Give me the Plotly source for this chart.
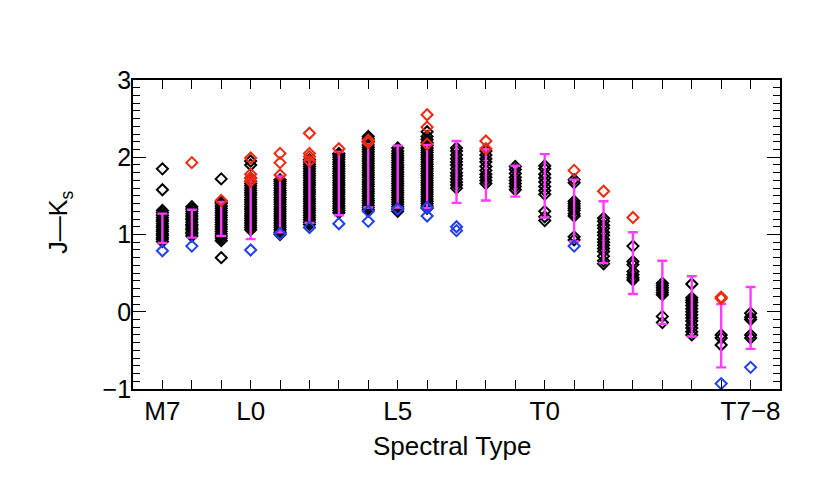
import plotly.graph_objects as go

# Spectral type index: 0 = M7 ... 20 = T7-8
type_index = list(range(21))
tick_positions = [0, 3, 8, 13, 20]
tick_labels = ["M7", "L0", "L5", "T0", "T7\u22128"]

# Individual objects (black diamonds), one list per spectral type
black_jk = [
    [1.85, 1.58, 0.91, 0.94, 0.96, 0.99, 1.01, 1.04, 1.06, 1.09, 1.11, 1.14, 1.17, 1.19, 1.22, 1.25, 1.28, 1.31],
    [0.98, 1.01, 1.03, 1.06, 1.08, 1.11, 1.13, 1.16, 1.19, 1.21, 1.24, 1.27, 1.30, 1.33, 1.36],
    [1.72, 0.70, 0.92, 0.95, 0.98, 1.01, 1.04, 1.07, 1.10, 1.13, 1.16, 1.19, 1.22, 1.25, 1.28, 1.31, 1.34, 1.37, 1.40, 1.42],
    [1.95, 1.90, 1.06, 1.09, 1.12, 1.15, 1.18, 1.21, 1.24, 1.27, 1.30, 1.33, 1.36, 1.39, 1.42, 1.45, 1.48, 1.51, 1.54, 1.57, 1.60, 1.63, 1.66, 1.69, 1.73],
    [1.00, 1.03, 1.06, 1.09, 1.12, 1.15, 1.18, 1.21, 1.24, 1.27, 1.30, 1.33, 1.36, 1.39, 1.42, 1.45, 1.48, 1.51, 1.54, 1.57, 1.60, 1.63, 1.66, 1.69, 1.71],
    [1.13, 1.16, 1.19, 1.22, 1.25, 1.28, 1.31, 1.34, 1.37, 1.40, 1.43, 1.46, 1.49, 1.52, 1.55, 1.58, 1.61, 1.64, 1.67, 1.70, 1.73, 1.76, 1.79, 1.82, 1.85, 1.88, 1.91, 1.94, 1.97],
    [1.28, 1.31, 1.34, 1.37, 1.40, 1.43, 1.46, 1.49, 1.52, 1.55, 1.58, 1.61, 1.64, 1.67, 1.70, 1.73, 1.76, 1.79, 1.82, 1.85, 1.88, 1.91, 1.94, 1.97, 2.00, 2.03, 2.05],
    [1.32, 1.35, 1.38, 1.41, 1.44, 1.47, 1.50, 1.53, 1.56, 1.59, 1.62, 1.65, 1.68, 1.71, 1.74, 1.77, 1.80, 1.83, 1.86, 1.89, 1.92, 1.95, 1.98, 2.01, 2.04, 2.07, 2.10, 2.13, 2.16, 2.20, 2.24, 2.27],
    [1.30, 1.33, 1.36, 1.39, 1.42, 1.45, 1.48, 1.51, 1.54, 1.57, 1.60, 1.63, 1.66, 1.69, 1.72, 1.75, 1.78, 1.81, 1.84, 1.87, 1.90, 1.93, 1.96, 1.99, 2.02, 2.05, 2.08, 2.12],
    [1.34, 1.37, 1.40, 1.43, 1.46, 1.49, 1.52, 1.55, 1.58, 1.61, 1.64, 1.67, 1.70, 1.73, 1.76, 1.79, 1.82, 1.85, 1.88, 1.91, 1.94, 1.97, 2.00, 2.03, 2.06, 2.09, 2.12, 2.15, 2.19, 2.23, 2.27, 2.33],
    [2.12, 2.08, 2.03, 1.98, 1.94, 1.90, 1.85, 1.80, 1.76, 1.72, 1.68, 1.64, 1.60],
    [2.08, 2.03, 1.98, 1.94, 1.88, 1.83, 1.78, 1.74, 1.70, 1.66],
    [1.88, 1.84, 1.79, 1.74, 1.70, 1.66, 1.62, 1.58],
    [1.89, 1.85, 1.78, 1.73, 1.68, 1.62, 1.57, 1.52, 1.30, 1.23, 1.18],
    [1.71, 1.67, 1.43, 1.40, 1.37, 1.34, 1.31, 1.27, 1.24, 0.97, 0.93],
    [1.21, 1.17, 1.12, 1.08, 1.03, 0.99, 0.94, 0.90, 0.86, 0.82, 0.78, 0.72, 0.66, 0.62],
    [0.85, 0.65, 0.61, 0.52, 0.48, 0.44, 0.41],
    [0.37, 0.34, 0.31, 0.28, 0.25, 0.22, -0.06, -0.14],
    [0.36, 0.18, 0.15, 0.12, 0.08, 0.04, 0.00, -0.04, -0.08, -0.12, -0.17, -0.21, -0.26, -0.30],
    [-0.30, -0.34, -0.43],
    [-0.02, -0.07, -0.10, -0.30, -0.34],
]

# Mean and standard deviation per spectral type (magenta bars)
mean_jk = [1.08, 1.14, 1.20, 1.33, 1.39, 1.56, 1.66, 1.76, 1.75, 1.75, 1.81,
           1.77, 1.69, 1.63, 1.31, 1.03, 0.63, 0.25, 0.07, -0.31, -0.08]
sigma_jk = [0.19, 0.18, 0.22, 0.39, 0.36, 0.41, 0.41, 0.41, 0.40, 0.41, 0.40,
            0.33, 0.20, 0.41, 0.40, 0.40, 0.40, 0.41, 0.39, 0.41, 0.40]

# Red (unusually red) objects
red_type = [1, 2, 3, 3, 3, 3, 4, 4, 4, 5, 5, 5, 5, 6, 7, 7, 9, 9, 9, 11, 11, 14, 15, 16, 19, 19]
red_jk = [1.93, 1.44, 1.99, 1.78, 1.73, 1.69, 2.05, 1.93, 1.77, 2.31, 2.05, 2.01, 1.95,
          2.11, 2.22, 2.19, 2.55, 2.39, 2.17, 2.21, 2.11, 1.83, 1.56, 1.22, 0.19, 0.17]

# Blue (unusually blue) objects
blue_type = [0, 1, 3, 4, 5, 6, 7, 7, 8, 9, 9, 10, 10, 14, 19, 20]
blue_jk = [0.79, 0.85, 0.80, 1.01, 1.09, 1.14, 1.30, 1.17, 1.33, 1.35, 1.24, 1.10, 1.05, 0.85, -0.93, -0.72]

BLACK = "#000000"
MAGENTA = "#ff3cff"
RED = "#f02a10"
BLUE = "#2040f0"

bx, by = [], []
for t, vals in zip(type_index, black_jk):
    bx.extend([t] * len(vals))
    by.extend(vals)

fig = go.Figure()
fig.add_trace(go.Scatter(
    x=bx, y=by, mode="markers",
    marker=dict(symbol="diamond-open", size=8.5, color=BLACK, line=dict(width=2, color=BLACK)),
    showlegend=False,
))
fig.add_trace(go.Scatter(
    x=type_index, y=mean_jk, mode="markers",
    marker=dict(size=1, color="rgba(0,0,0,0)"),
    error_y=dict(type="data", array=sigma_jk, symmetric=True, color=MAGENTA, thickness=2.4, width=5),
    showlegend=False,
))
fig.add_trace(go.Scatter(
    x=red_type, y=red_jk, mode="markers",
    marker=dict(symbol="diamond-open", size=8.5, color=RED, line=dict(width=2, color=RED)),
    showlegend=False,
))
fig.add_trace(go.Scatter(
    x=blue_type, y=blue_jk, mode="markers",
    marker=dict(symbol="diamond-open", size=8.5, color=BLUE, line=dict(width=2, color=BLUE)),
    showlegend=False,
))

font_family = "Liberation Sans, Arial, Helvetica, sans-serif"
fig.update_layout(
    width=830, height=491,
    margin=dict(l=125, r=58, t=72, b=110),
    paper_bgcolor="white", plot_bgcolor="white",
    font=dict(family=font_family, size=26, color="black"),
    xaxis=dict(
        range=[-1, 21], tickmode="array", tickvals=type_index,
        ticktext=[tick_labels[tick_positions.index(t)] if t in tick_positions else "" for t in type_index],
        ticks="inside", ticklen=9, tickwidth=1.4, tickcolor="black",
        showline=True, linecolor="black", linewidth=1.8, mirror="ticks",
        showgrid=False, zeroline=False, ticklabelstandoff=-2,
        tickfont=dict(size=26),
    ),
    yaxis=dict(
        range=[-1, 3], tickmode="array", tickvals=[-1, 0, 1, 2, 3],
        ticktext=["\u22121", "0", "1", "2", "3"],
        ticks="inside", ticklen=13, tickwidth=1.4, tickcolor="black",
        minor=dict(dtick=0.1, ticks="inside", ticklen=7, tickwidth=1.1, tickcolor="black"),
        showline=True, linecolor="black", linewidth=1.8, mirror="ticks",
        showgrid=False, zeroline=False, ticklabelstandoff=-5,
        tickfont=dict(size=25),
    ),
    annotations=[
        dict(text="Spectral Type", xref="paper", yref="paper", x=0.494, y=-0.185,
             xanchor="center", yanchor="middle", showarrow=False, font=dict(size=26)),
        dict(text="J\u2014K<sub>s</sub>", xref="paper", yref="paper", x=-0.112, y=0.54,
             xanchor="center", yanchor="middle", showarrow=False, textangle=-90, font=dict(size=25)),
    ],
)

fig.write_html("out.html")
